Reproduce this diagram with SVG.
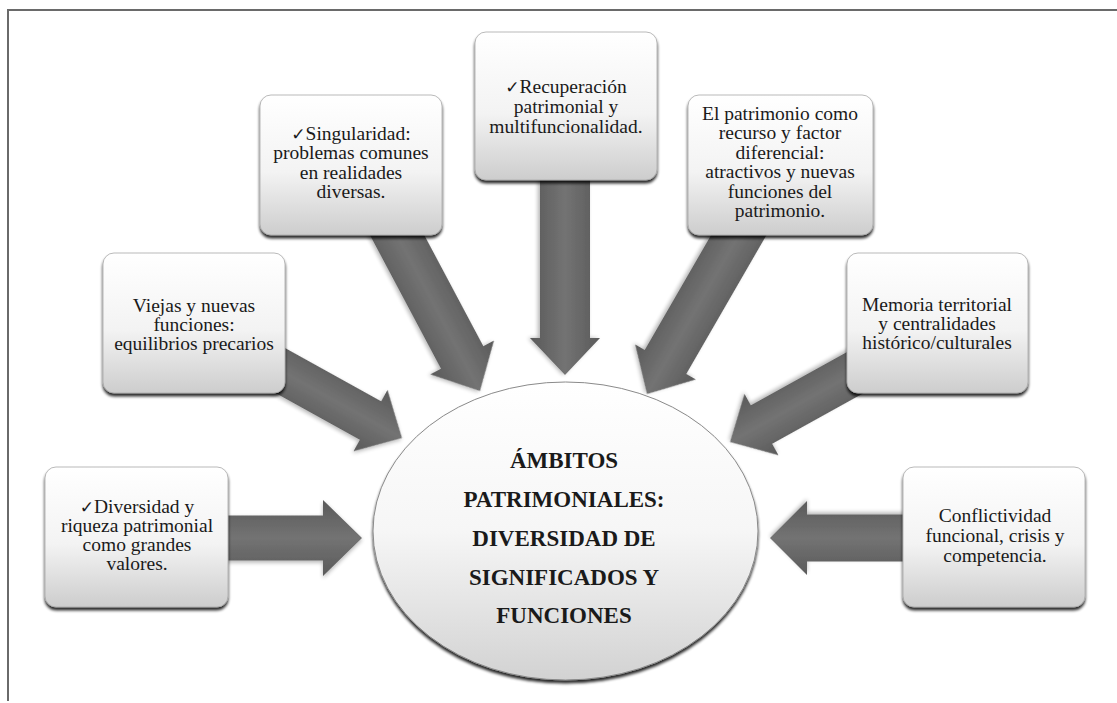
<svg xmlns="http://www.w3.org/2000/svg" width="1117" height="703" viewBox="0 0 1117 703">
<style>
.frame{stroke:#6a6a6a;stroke-width:2;fill:none}
.box{fill:url(#bg);stroke:#a8a8a8;stroke-width:0.8;filter:url(#sh)}
.arr{fill:url(#ag);filter:url(#ash)}
.t{font-family:"Liberation Serif","Times New Roman",serif;font-size:19.5px;fill:#1a1a1a;text-anchor:middle}
.ck{font-family:"DejaVu Sans",sans-serif;font-size:17px}
.c{font-family:"Liberation Serif","Times New Roman",serif;font-size:23px;font-weight:bold;fill:#1a1a1a;text-anchor:middle}
</style>
<defs>
<linearGradient id="bg" x1="0" y1="0" x2="0" y2="1">
<stop offset="0" stop-color="#ffffff"/>
<stop offset="0.55" stop-color="#f3f3f3"/>
<stop offset="1" stop-color="#cdcdcd"/>
</linearGradient>
<linearGradient id="eg" x1="0" y1="0" x2="0" y2="1">
<stop offset="0" stop-color="#ffffff"/>
<stop offset="0.5" stop-color="#f6f6f6"/>
<stop offset="1" stop-color="#d2d2d2"/>
</linearGradient>
<linearGradient id="ag" x1="0" y1="0" x2="0" y2="1">
<stop offset="0" stop-color="#5a5a5a"/>
<stop offset="0.5" stop-color="#737373"/>
<stop offset="1" stop-color="#5a5a5a"/>
</linearGradient>
<filter id="sh" x="-10%" y="-10%" width="125%" height="130%">
<feGaussianBlur in="SourceAlpha" stdDeviation="1.6"/>
<feOffset dy="3" result="o"/>
<feComponentTransfer><feFuncA type="linear" slope="0.85"/></feComponentTransfer>
<feMerge><feMergeNode/><feMergeNode in="SourceGraphic"/></feMerge>
</filter>
<filter id="ash" x="-20%" y="-30%" width="140%" height="160%">
<feGaussianBlur in="SourceAlpha" stdDeviation="2"/>
<feOffset dy="2" result="o"/>
<feComponentTransfer><feFuncA type="linear" slope="0.3"/></feComponentTransfer>
<feMerge><feMergeNode/><feMergeNode in="SourceGraphic"/></feMerge>
</filter>
</defs>
<rect width="1117" height="703" fill="#ffffff"/>
<path class="frame" d="M8,701 L8,10 L1117,10"/>

<g id="connectors">
<g transform="translate(362,538)"><polygon class="arr" points="0,0 -39,-38 -39,-22.5 -162,-22.5 -162,22.5 -39,22.5 -39,38"/></g>
<g transform="translate(770,538) rotate(180)"><polygon class="arr" points="0,0 -37,-37 -37,-23.5 -160,-23.5 -160,23.5 -37,23.5 -37,37"/></g>
<g transform="translate(402,438) rotate(29)"><polygon class="arr" points="0,0 -36,-35 -36,-22 -170,-22 -170,22 -36,22 -36,35"/></g>
<g transform="translate(480,391) rotate(62)"><polygon class="arr" points="0,0 -38,-36 -38,-24 -200,-24 -200,24 -38,24 -38,36"/></g>
<g transform="translate(565,375) rotate(90)"><polygon class="arr" points="0,0 -37,-35 -37,-25 -215,-25 -215,25 -37,25 -37,35"/></g>
<g transform="translate(647,394) rotate(120)"><polygon class="arr" points="0,0 -37,-35 -37,-24 -200,-24 -200,24 -37,24 -37,35"/></g>
<g transform="translate(730,442) rotate(151)"><polygon class="arr" points="0,0 -36,-35 -36,-22 -170,-22 -170,22 -36,22 -36,35"/></g>
</g>

<g id="center">
<ellipse cx="565.5" cy="531" rx="192.5" ry="149" fill="url(#eg)" stroke="#8a8a8a" stroke-width="1" filter="url(#sh)"/>
<text class="c" x="564" y="468">ÁMBITOS</text>
<text class="c" x="564" y="507">PATRIMONIALES:</text>
<text class="c" x="564" y="546">DIVERSIDAD DE</text>
<text class="c" x="564" y="585">SIGNIFICADOS Y</text>
<text class="c" x="564" y="623">FUNCIONES</text>
</g>

<g id="n-singularidad">
<rect class="box" x="260" y="95" width="182" height="140" rx="11"/>
<text class="t" x="351" y="140"><tspan class="ck">✓</tspan>Singularidad:</text>
<text class="t" x="351" y="159.3">problemas comunes</text>
<text class="t" x="351" y="178.6">en realidades</text>
<text class="t" x="351" y="198">diversas.</text>
</g>

<g id="n-recuperacion">
<rect class="box" x="475" y="32" width="182" height="148" rx="11"/>
<text class="t" x="566" y="93"><tspan class="ck">✓</tspan>Recuperación</text>
<text class="t" x="566" y="113">patrimonial y</text>
<text class="t" x="566" y="133">multifuncionalidad.</text>
</g>

<g id="n-patrimonio">
<rect class="box" x="688" y="95" width="185" height="140" rx="11"/>
<text class="t" x="780" y="119.5">El patrimonio como</text>
<text class="t" x="780" y="139">recurso y factor</text>
<text class="t" x="780" y="158.5">diferencial:</text>
<text class="t" x="780" y="178">atractivos y nuevas</text>
<text class="t" x="780" y="197.5">funciones del</text>
<text class="t" x="780" y="217">patrimonio.</text>
</g>

<g id="n-viejas">
<rect class="box" x="103" y="253" width="182" height="140" rx="11"/>
<text class="t" x="194" y="312">Viejas y nuevas</text>
<text class="t" x="194" y="331">funciones:</text>
<text class="t" x="194" y="350">equilibrios precarios</text>
</g>

<g id="n-memoria">
<rect class="box" x="847" y="253" width="181" height="140" rx="11"/>
<text class="t" x="937" y="311">Memoria territorial</text>
<text class="t" x="937" y="330">y centralidades</text>
<text class="t" x="937" y="349">histórico/culturales</text>
</g>

<g id="n-diversidad">
<rect class="box" x="45" y="467" width="183" height="140" rx="11"/>
<text class="t" x="137" y="513"><tspan class="ck">✓</tspan>Diversidad y</text>
<text class="t" x="137" y="532">riqueza patrimonial</text>
<text class="t" x="137" y="551">como grandes</text>
<text class="t" x="137" y="570">valores.</text>
</g>

<g id="n-conflictividad">
<rect class="box" x="903" y="467" width="182" height="140" rx="11"/>
<text class="t" x="995" y="522">Conflictividad</text>
<text class="t" x="995" y="542">funcional, crisis y</text>
<text class="t" x="995" y="562">competencia.</text>
</g>
</svg>
